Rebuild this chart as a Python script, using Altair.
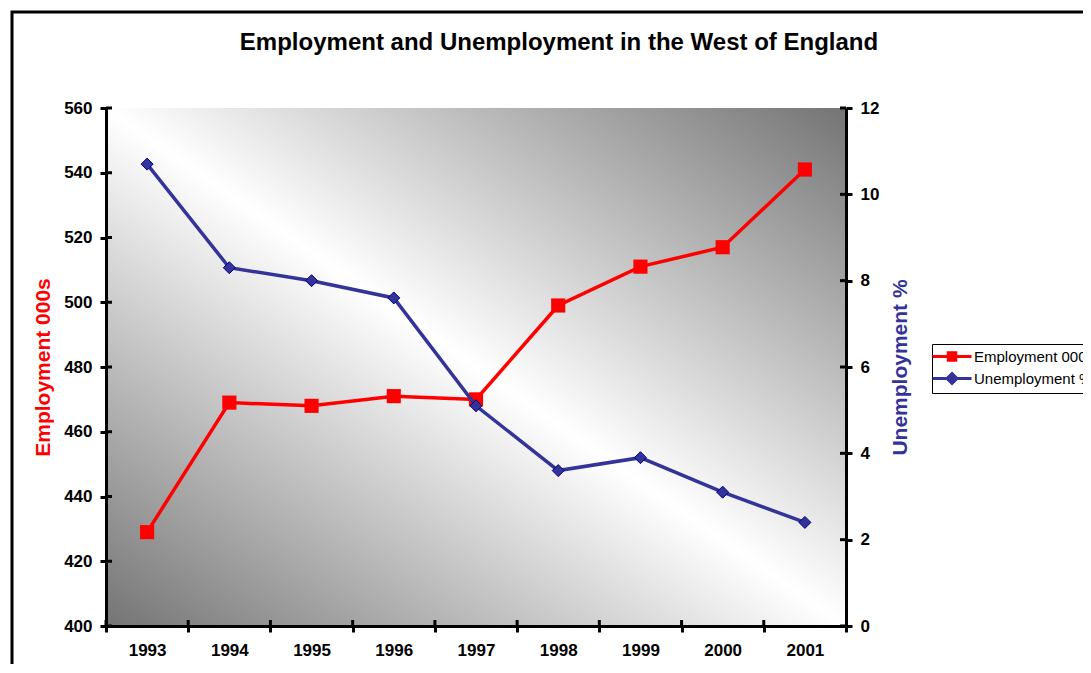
import altair as alt
import pandas as pd

years = ["1993", "1994", "1995", "1996", "1997", "1998", "1999", "2000", "2001"]
employment = [429, 469, 468, 471, 470, 499, 511, 517, 541]
unemployment = [10.7, 8.3, 8.0, 7.6, 5.1, 3.6, 3.9, 3.1, 2.4]
emp_ticks = [400, 420, 440, 460, 480, 500, 520, 540, 560]
unemp_ticks = [0, 2, 4, 6, 8, 10, 12]
series_names = ["Employment 000s", "Unemployment %"]
series_colors = ["#ff0000", "#333399"]
title_text = "Employment and Unemployment in the West of England"

df = pd.DataFrame({"year": years, "emp": employment, "unemp": unemployment})
one = pd.DataFrame({"k": [0]})
leg_df = pd.DataFrame({"series": series_names})
emp_tick_df = pd.DataFrame({"v": emp_ticks})
unemp_tick_df = pd.DataFrame({"v": unemp_ticks})

W, H = 740, 518
FONT = "Liberation Sans"
IN = 6  # inner tick length

xscale = alt.Scale(type="band", paddingInner=0, paddingOuter=0)
emp_scale = alt.Scale(domain=[400, 560], nice=False, zero=False)
unemp_scale = alt.Scale(domain=[0, 12], nice=False)

main_tick = dict(domainColor="black", domainWidth=3, tickColor="black", tickWidth=3,
                 tickSize=6, labelFont=FONT, labelFontSize=17, labelFontWeight="bold",
                 labelColor="black", grid=False, zindex=2)
x_axis = alt.Axis(title=None, labelAngle=0, tickBand="extent", labelPadding=10, **main_tick)


def xenc(**kw):
    return alt.X("year:O", scale=xscale, axis=x_axis, **kw)


# plot background gradient
bg = alt.Chart(one).mark_rect(
    fill=alt.LinearGradient(
        gradient="linear",
        stops=[alt.GradientStop(offset=0, color="#747474"),
               alt.GradientStop(offset=0.5, color="#ffffff"),
               alt.GradientStop(offset=1, color="#747474")],
        x1=0, y1=1, x2=1, y2=0),
    stroke=None,
).encode(x=alt.value(0), x2=alt.value(W), y=alt.value(0), y2=alt.value(H))

# outer chart frame
frame = alt.Chart(one).mark_rect(fill=None, stroke="black", strokeWidth=3, clip=False).encode(
    x=alt.value(-94), x2=alt.value(1100), y=alt.value(-96), y2=alt.value(700))

# inner halves of the x-axis ticks (at category boundaries)
x_inner = alt.Chart(df).mark_rule(color="black", strokeWidth=3).encode(
    x=xenc(bandPosition=0),
    y=alt.value(H - IN), y2=alt.value(H))

emp_line = alt.Chart(df).mark_line(color=series_colors[0], strokeWidth=3.5).encode(
    x=xenc(),
    y=alt.Y("emp:Q", scale=emp_scale,
            axis=alt.Axis(orient="left", values=emp_ticks, title=series_names[0],
                          titleColor=series_colors[0], titleFont=FONT, titleFontSize=21,
                          titleFontWeight="bold", titlePadding=10, labelPadding=8, **main_tick)),
)
emp_pts = alt.Chart(df).mark_point(shape="square", filled=True, size=200, opacity=1,
                                   color=series_colors[0]).encode(
    x=xenc(),
    y=alt.Y("emp:Q", scale=emp_scale),
)
emp_inner = alt.Chart(emp_tick_df).mark_rule(color="black", strokeWidth=3).encode(
    y=alt.Y("v:Q", scale=emp_scale), x=alt.value(0), x2=alt.value(IN))
emp_group = alt.layer(emp_line, emp_inner, emp_pts)

unemp_line = alt.Chart(df).mark_line(color=series_colors[1], strokeWidth=3.5).encode(
    x=xenc(),
    y=alt.Y("unemp:Q", scale=unemp_scale,
            axis=alt.Axis(orient="right", values=unemp_ticks, title=series_names[1],
                          titleColor=series_colors[1], titleFont=FONT, titleFontSize=21,
                          titleFontWeight="bold", titleAngle=270, titlePadding=32,
                          labelPadding=8, **main_tick)),
)
unemp_pts = alt.Chart(df).mark_point(shape="diamond", filled=True, size=144, opacity=1,
                                     fill=series_colors[1], stroke="#000080",
                                     strokeWidth=1).encode(
    x=xenc(),
    y=alt.Y("unemp:Q", scale=unemp_scale),
)
unemp_inner = alt.Chart(unemp_tick_df).mark_rule(color="black", strokeWidth=3).encode(
    y=alt.Y("v:Q", scale=unemp_scale), x=alt.value(W - IN), x2=alt.value(W))
unemp_group = alt.layer(unemp_line, unemp_inner, unemp_pts)

# legend symbols: a line with the marker, drawn from the symbol's left edge
sq_path = "M-1.5,0H3.375M0.47,-0.47H1.41V0.47H0.47Z"
dm_path = "M-1.5,0H3.375M0.94,-0.62L1.56,0L0.94,0.62L0.32,0Z"
legend = alt.Legend(orient="none", legendX=826, legendY=236, title=None,
                    strokeColor="black", fillColor="white", padding=3,
                    labelFont=FONT, labelFontSize=15, labelColor="black", labelOffset=20,
                    symbolSize=256, symbolStrokeWidth=3, symbolOpacity=1, rowPadding=0)
leg_layer = alt.Chart(leg_df).mark_point(filled=True, size=0).encode(
    x=alt.value(0), y=alt.value(0),
    fill=alt.Fill("series:N", scale=alt.Scale(domain=series_names, range=series_colors), legend=legend),
    stroke=alt.Stroke("series:N", scale=alt.Scale(domain=series_names, range=series_colors), legend=legend),
    shape=alt.Shape("series:N", scale=alt.Scale(domain=series_names, range=[sq_path, dm_path]), legend=legend),
)

chart = alt.layer(bg, frame, x_inner, emp_group, unemp_group, leg_layer).resolve_scale(
    y="independent").properties(
    width=W, height=H,
    title=alt.TitleParams(title_text, font=FONT, fontSize=24, fontWeight="bold", color="black",
                          anchor="middle", dx=83, offset=-44),
    padding={"left": 98, "top": 100, "right": 237, "bottom": 38},
    autosize=alt.AutoSizeParams(type="none"),
).configure_view(stroke=None).configure(background="white")

chart.save("out.html", embed_options={"renderer": "svg", "actions": False})
